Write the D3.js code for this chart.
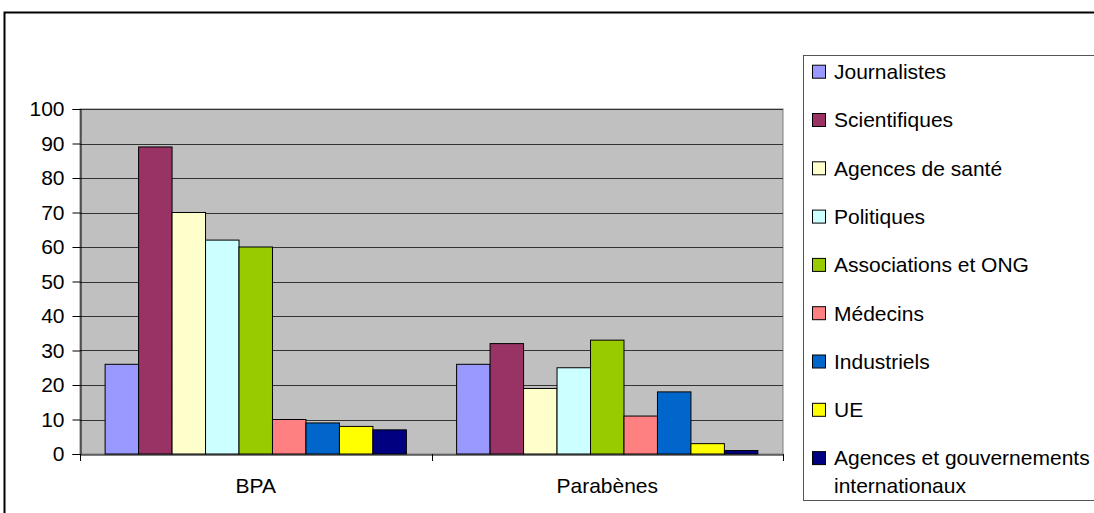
<!DOCTYPE html>
<html><head><meta charset="utf-8">
<script src="https://cdn.jsdelivr.net/npm/d3@7"></script>
<style>body{margin:0;background:#fff}svg{display:block}text{font-family:"Liberation Sans",Arial,sans-serif;fill:#000}</style>
</head><body>
<svg id="c" width="1094" height="513"></svg>
<script>
const categories = ["BPA", "Parabènes"];
const seriesNames = ["Journalistes","Scientifiques","Agences de santé","Politiques","Associations et ONG","Médecins","Industriels","UE","Agences et gouvernements internationaux"];
const seriesColors = ["#9999FF","#993366","#FFFFCC","#CCFFFF","#99CC00","#FF8080","#0066CC","#FFFF00","#000080"];
const bpaValues = [26, 89, 70, 62, 60, 10, 9, 8, 7];
const parabenesValues = [26, 32, 19, 25, 33, 11, 18, 3, 1];
const yTicks = [0,10,20,30,40,50,60,70,80,90,100];

const svg = d3.select("#c");
const fs = 21;
const ff = "'Liberation Sans', Arial, sans-serif";
// outer chart border
svg.append("rect").attr("x",4.5).attr("y",12.5).attr("width",1200).attr("height",600)
  .attr("fill","#fff").attr("stroke","#000").attr("stroke-width",2);

const L=80, R=783, T=109, B=454;
const x0 = d3.scaleBand().domain(categories).range([L,R]).paddingInner(0).paddingOuter(0);
const edge = x0.bandwidth()*(0.75/10.5);
const x1 = d3.scaleBand().domain(seriesNames).range([edge, x0.bandwidth()-edge]);
const y = d3.scaleLinear().domain([0,100]).range([B,T]);

// plot background
svg.append("rect").attr("x",L).attr("y",T).attr("width",R-L).attr("height",B-T).attr("fill","#C0C0C0").attr("stroke","#808080").attr("stroke-width",1);
// gridlines
svg.append("g").selectAll("line").data(yTicks.filter(d=>d>0)).join("line")
  .attr("x1",L).attr("x2",R).attr("y1",d=>Math.round(y(d))+0.5).attr("y2",d=>Math.round(y(d))+0.5)
  .attr("stroke","#333").attr("stroke-width",1);

const data = [bpaValues, parabenesValues];
const g = svg.append("g");
categories.forEach((c,ci)=>{
  g.append("g").selectAll("rect").data(data[ci]).join("rect")
    .attr("x",(d,i)=>x0(c)+x1(seriesNames[i]))
    .attr("width",x1.bandwidth())
    .attr("y",d=>y(d))
    .attr("height",d=>B-y(d))
    .attr("fill",(d,i)=>seriesColors[i])
    .attr("stroke","#000").attr("stroke-width",1);
});

// y axis
const ya = svg.append("g").attr("transform",`translate(${L+0.5},0)`)
  .call(d3.axisLeft(y).tickValues(yTicks).tickSize(8).tickPadding(8));
ya.select(".domain").attr("stroke","#000");
ya.selectAll(".tick line").attr("stroke","#000");
ya.selectAll("text").style("font-size",fs+"px").attr("font-family",ff).attr("fill","#000");

// x axis
const xa = svg.append("g").attr("transform",`translate(0,${B+0.5})`)
  .call(d3.axisBottom(x0).tickSize(0).tickPadding(24));
xa.select(".domain").attr("stroke","#000");
xa.selectAll("text").style("font-size",fs+"px").attr("font-family",ff).attr("fill","#000");
const xt = [L, x0(categories[1]), R];
svg.append("g").selectAll("line").data(xt).join("line")
  .attr("x1",d=>Math.round(d)+0.5).attr("x2",d=>Math.round(d)+0.5).attr("y1",B).attr("y2",B+7).attr("stroke","#000");

// legend
const lg = svg.append("g");
lg.append("rect").attr("x",803.5).attr("y",55.5).attr("width",400).attr("height",445).attr("fill","#fff").attr("stroke","#555").attr("stroke-width",1);
const labelLines = [["Journalistes"],["Scientifiques"],["Agences de santé"],["Politiques"],["Associations et ONG"],["Médecins"],["Industriels"],["UE"],["Agences et gouvernements","internationaux"]];
labelLines.forEach((lines,i)=>{
  const cy = 71.7 + 48.3*i;
  lg.append("rect").attr("x",812.5).attr("y",cy-6.5).attr("width",13).attr("height",13)
    .attr("fill",seriesColors[i]).attr("stroke","#000").attr("stroke-width",1);
  lines.forEach((t,j)=>{
    lg.append("text").attr("x",834).attr("y",cy+j*28).attr("dy","0.35em").style("font-size",fs+"px").style("font-family",ff).text(t);
  });
});
</script>
</body></html>
